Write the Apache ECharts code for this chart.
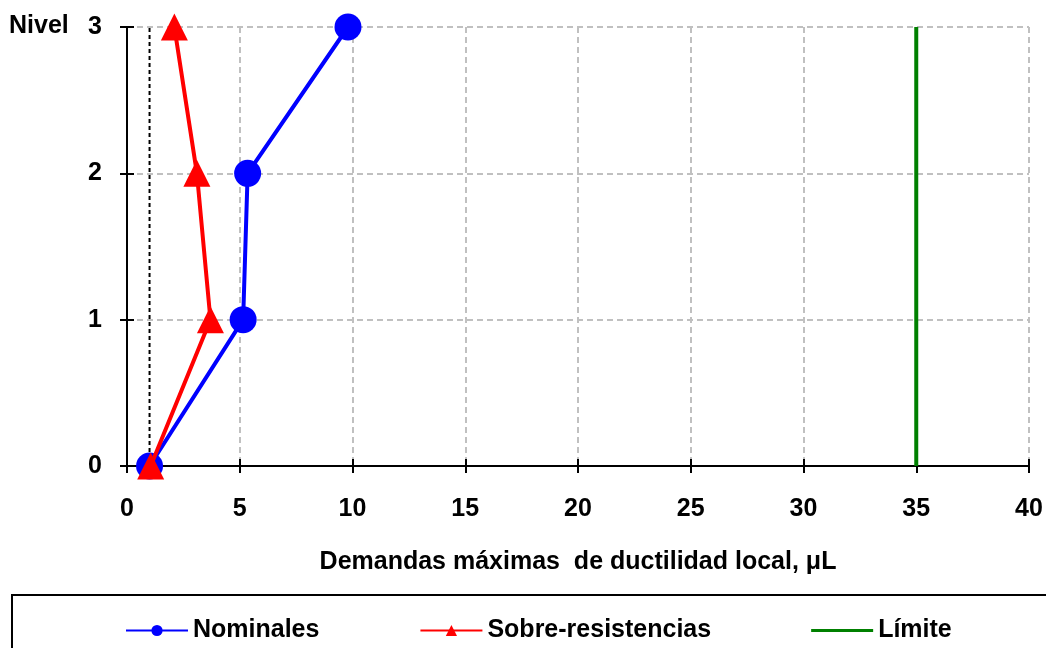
<!DOCTYPE html>
<html>
<head>
<meta charset="utf-8">
<script src="https://cdn.jsdelivr.net/npm/echarts@6/dist/echarts.min.js"></script>
<style>html,body{margin:0;padding:0;background:#fff}#c{width:1046px;height:648px}</style>
</head>
<body>
<div id="c"></div>
<script>
const levels = [0, 1, 2, 3];
const nominales = [1.0, 5.15, 5.35, 9.8];
const sobreResistencias = [1.05, 3.7, 3.1, 2.1];
const limite = 35;
const referencia = 1;
const xTicks = [0, 5, 10, 15, 20, 25, 30, 35, 40];
const yTicks = [0, 1, 2, 3];

const FONT = '"Liberation Sans", Arial, sans-serif';
const FS = 25;
const chart = echarts.init(document.getElementById('c'), null, {renderer: 'canvas'});

const pairs = (xs) => xs.map((x, i) => [x, levels[i]]);
const vline = (x) => [[x, levels[0]], [x, levels[levels.length - 1]]];

const labelStyle = {color: '#000', fontFamily: FONT, fontWeight: 'bold', fontSize: FS};

chart.setOption({
  animation: false,
  backgroundColor: '#fff',
  textStyle: {fontFamily: FONT},
  grid: {left: 127, right: 17, top: 27, bottom: 182},
  graphic: [
    {type: 'text', left: 9, top: 14, style: {text: 'Nivel', fill: '#000', font: 'bold ' + FS + 'px ' + FONT}},
    {type: 'rect', shape: {x: 12, y: 595, width: 1100, height: 100}, style: {fill: 'none', stroke: '#000', lineWidth: 2}, z: -1}
  ],
  legend: {
    left: 120, top: 613,
    itemGap: 100, itemWidth: 62, itemHeight: 14,
    data: ['Nominales', 'Sobre-resistencias', {name: 'Límite', icon: 'path://M0,0 L62,0 L62,3 L0,3 Z'}],
    textStyle: {color: '#000', fontFamily: FONT, fontWeight: 'bold', fontSize: FS}
  },
  xAxis: [{
    type: 'value', min: 0, max: 40, interval: 5,
    name: 'Demandas máximas  de ductilidad local, μL',
    nameLocation: 'middle', nameGap: 84,
    nameTextStyle: labelStyle,
    axisLine: {onZero: false, lineStyle: {color: '#000', width: 2}},
    axisTick: {show: true, length: 7, lineStyle: {color: '#000', width: 2}},
    axisLabel: Object.assign({margin: 31}, labelStyle),
    splitLine: {show: true, lineStyle: {color: '#c0c0c0', width: 2, type: [6, 4]}}
  }, {
    type: 'value', min: 0, max: 40, interval: 5, position: 'bottom',
    axisLine: {show: false},
    axisTick: {show: true, inside: true, length: 7, lineStyle: {color: '#000', width: 2}},
    axisLabel: {show: false}, splitLine: {show: false}
  }],
  yAxis: [{
    type: 'value', min: 0, max: 3, interval: 1,
    axisLine: {onZero: false, lineStyle: {color: '#000', width: 2}},
    axisTick: {show: true, length: 7, lineStyle: {color: '#000', width: 2}},
    axisLabel: Object.assign({margin: 25}, labelStyle),
    splitLine: {show: true, lineStyle: {color: '#c0c0c0', width: 2, type: [6, 4]}}
  }, {
    type: 'value', min: 0, max: 3, interval: 1, position: 'left',
    axisLine: {show: false},
    axisTick: {show: true, inside: true, length: 7, lineStyle: {color: '#000', width: 2}},
    axisLabel: {show: false}, splitLine: {show: false}
  }],
  series: [
    {
      name: 'ref', type: 'line', data: vline(referencia), symbol: 'none',
      lineStyle: {color: '#000', width: 2, type: [4, 3]}, z: 1, silent: true
    },
    {
      name: 'Límite', type: 'line', data: vline(limite), symbol: 'none',
      itemStyle: {color: '#008000'},
      lineStyle: {color: '#008000', width: 4}, z: 2
    },
    {
      name: 'Nominales', type: 'line', data: pairs(nominales),
      symbol: 'circle', symbolSize: 27,
      itemStyle: {color: '#0000ff'},
      lineStyle: {color: '#0000ff', width: 4}, z: 3
    },
    {
      name: 'Sobre-resistencias', type: 'line', data: pairs(sobreResistencias),
      symbol: 'triangle', symbolSize: 27,
      itemStyle: {color: '#ff0000'},
      lineStyle: {color: '#ff0000', width: 4}, z: 4
    }
  ]
});
</script>
</body>
</html>
